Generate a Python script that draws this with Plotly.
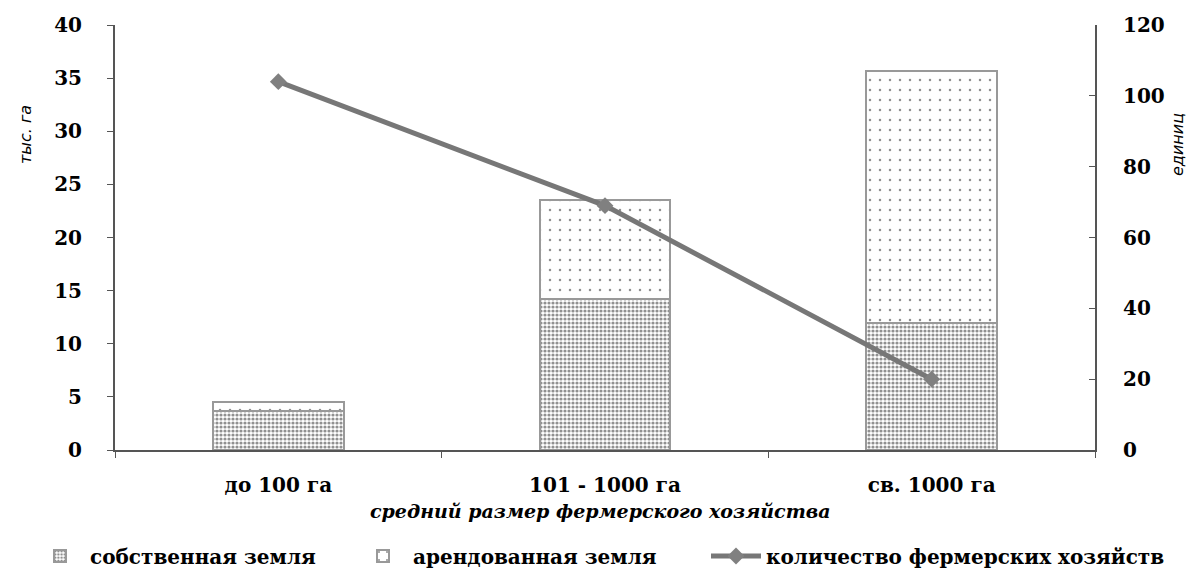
import plotly.graph_objects as go

categories = ["до 100 га", "101 - 1000 га", "св. 1000 га"]
own_land = [3.7, 14.2, 12.0]
rented_land = [0.8, 9.3, 23.7]
farm_count = [104, 69, 20]

serif = "DejaVu Serif"

# the page body has an 8px margin, so the figure is shifted by 8px
OFF = 8
W, H = 1197 - OFF, 571 - OFF
L, R, T, B = 115 - OFF, 1095 - OFF, 25 - OFF, 450 - OFF


def px_x(px):
    return (px - OFF - L) / (R - L)


def px_y(py):
    return (B - (py - OFF)) / (B - T)


def cx(px):
    return (px - OFF) / W


def cy(py):
    return (H - (py - OFF)) / H


fig = go.Figure()
fig.add_trace(go.Bar(
    x=categories, y=own_land, name="собственная земля", legend="legend",
    marker=dict(color="white", line=dict(color="#999999", width=2),
                pattern=dict(shape=".", size=4, solidity=0.5, fgcolor="#222222", bgcolor="white")),
    width=0.4,
))
fig.add_trace(go.Bar(
    x=categories, y=rented_land, name="арендованная земля", legend="legend2",
    marker=dict(color="white", line=dict(color="#999999", width=2),
                pattern=dict(shape=".", size=10, solidity=0.05, fgcolor="#222222", bgcolor="white")),
    width=0.4,
))
fig.add_trace(go.Scatter(
    x=categories, y=farm_count, name="количество фермерских хозяйств", yaxis="y2",
    legend="legend3",
    mode="lines+markers",
    line=dict(color="#777777", width=5),
    marker=dict(symbol="diamond", size=13, color="#808080"),
))

tickfont = dict(family=serif, size=20, color="black", weight="bold")
legfont = dict(family=serif, size=20, color="black", weight="bold")
axcol = "#555555"


def leg(xpx):
    return dict(orientation="h", xref="container", yref="container",
                x=cx(xpx), xanchor="left", y=cy(556), yanchor="middle",
                font=legfont, itemwidth=50, bgcolor="rgba(0,0,0,0)")


fig.update_layout(
    barmode="stack",
    width=W, height=H,
    margin=dict(l=L, r=W - R, t=T, b=H - B, autoexpand=False),
    paper_bgcolor="white", plot_bgcolor="white",
    showlegend=True,
    legend=leg(30),
    legend2=leg(353),
    legend3=leg(706),
    xaxis=dict(
        range=[-0.5, 2.5], showline=True, linecolor=axcol, linewidth=2,
        ticks="outside", tickson="boundaries", ticklen=6, tickcolor=axcol,
        tickfont=tickfont, showgrid=False, ticklabelstandoff=16,
    ),
    yaxis=dict(
        range=[0, 40], dtick=5, showline=True, linecolor=axcol, linewidth=2,
        ticks="outside", ticklen=6, tickcolor=axcol, showgrid=False, zeroline=False,
        tickfont=tickfont, ticklabelstandoff=21,
    ),
    yaxis2=dict(
        range=[0, 120], dtick=20, overlaying="y", side="right",
        showline=True, linecolor=axcol, linewidth=2,
        ticks="inside", ticklen=6, tickcolor=axcol, showgrid=False, zeroline=False,
        tickfont=tickfont, ticklabelstandoff=22,
    ),
    annotations=[
        dict(text="средний размер фермерского хозяйства", xref="paper", yref="paper",
             x=px_x(600), y=px_y(511), xanchor="center", yanchor="middle", showarrow=False,
             font=dict(family=serif, size=19, color="black", weight="bold", style="italic")),
        dict(text="тыс. га", xref="paper", yref="paper", x=px_x(26), y=px_y(135),
             xanchor="center", yanchor="middle",
             showarrow=False, textangle=-90,
             font=dict(family="DejaVu Sans", size=16, color="black", style="italic")),
        dict(text="единиц", xref="paper", yref="paper", x=px_x(1177), y=px_y(145),
             xanchor="center", yanchor="middle",
             showarrow=False, textangle=-90,
             font=dict(family="DejaVu Sans", size=16, color="black", style="italic")),
    ],
)

fig.write_html("out.html")
